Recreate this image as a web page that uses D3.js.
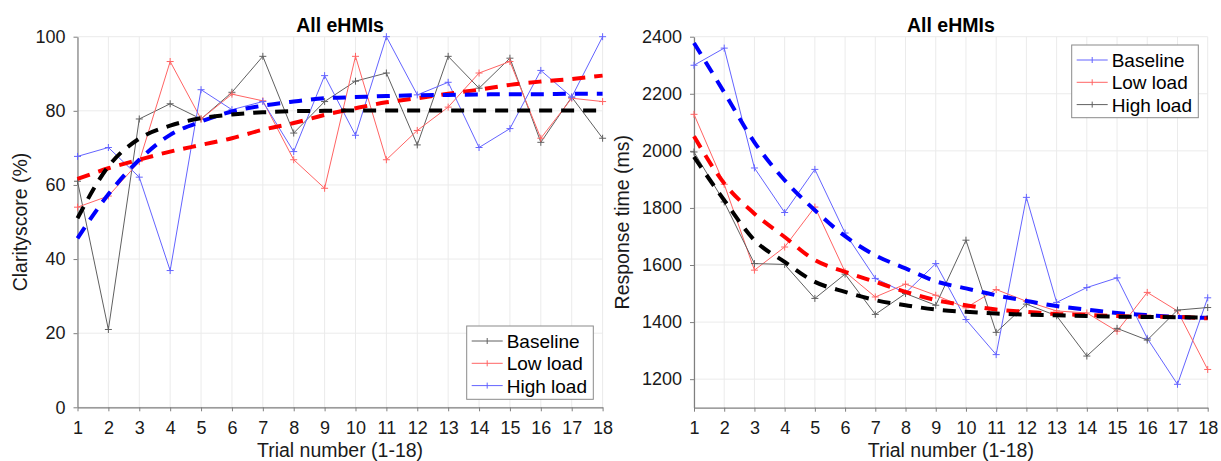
<!DOCTYPE html>
<html>
<head>
<meta charset="utf-8">
<script src="https://cdn.jsdelivr.net/npm/d3@7"></script>
<style>
  html, body { margin: 0; padding: 0; background: #fff; }
  svg { display: block; font-family: "Liberation Sans", Arial, sans-serif; }
</style>
</head>
<body>
<svg id="chart" width="1221" height="461"></svg>
<script>
// ---------- DATA ----------
const trials = d3.range(1, 19);
const seriesNames = ["Baseline", "Low load", "High load"];

// Left panel: Clarity score (%)
const clarityTicks = [0, 20, 40, 60, 80, 100];
const clarityBaseline = [61, 21, 77.8, 81.9, 77.8, 85, 94.7, 74, 82.5, 88, 90.2, 70.8, 94.7, 86.1, 94.2, 71.5, 83.7, 72.6];
const clarityLow      = [54, 57, 66.3, 93.3, 77.8, 84.5, 82.7, 66.8, 59.1, 94.7, 66.8, 74.7, 81, 90.2, 93.3, 72.6, 83.4, 82.5];
const clarityHigh     = [67.7, 70.1, 62.1, 36.9, 85.7, 80.3, 82.5, 69, 89.5, 73.4, 100, 84.3, 87.7, 70.1, 75.2, 90.9, 83.7, 100];
const clarityFitBaseline = [51, 65, 72.5, 76, 78, 79, 79.6, 79.9, 80, 80.1, 80.1, 80.1, 80.1, 80.1, 80.1, 80.1, 80.1, 80.1];
const clarityFitLow      = [61.6, 64.5, 66.8, 69, 70.8, 72.6, 74.9, 76.7, 78.9, 80.7, 82.3, 83.4, 84.6, 85.7, 87, 87.9, 88.6, 89.5];
const clarityFitHigh     = [45.6, 57.5, 66.8, 73.5, 77.1, 79.8, 81.4, 82.5, 83.4, 83.7, 84, 84.2, 84.3, 84.4, 84.5, 84.5, 84.6, 84.6];

// Right panel: Response time (ms)
const rtTicks = [1200, 1400, 1600, 1800, 2000, 2200, 2400];
const rtBaseline = [2300, 2360, 1940, 1784, 1935, 1712, 1553, 1502, 1605, 1409, 1286, 1837, 1469, 1521, 1555, 1343, 1182, 1485];
const rtLow      = [2128, 1883, 1582, 1663, 1803, 1576, 1488, 1533, 1494, 1450, 1514, 1473, 1439, 1432, 1368, 1504, 1439, 1234];
const rtHigh     = [1996, 1821, 1605, 1602, 1483, 1568, 1427, 1500, 1459, 1687, 1364, 1463, 1422, 1281, 1378, 1337, 1442, 1451];
const rtFitBaseline = [2378, 2205, 2030, 1897, 1792, 1701, 1634, 1588, 1543, 1518, 1494, 1474, 1456, 1444, 1432, 1424, 1418, 1415];
const rtFitLow      = [2051, 1886, 1780, 1698, 1617, 1576, 1541, 1506, 1477, 1459, 1444, 1436, 1428, 1425, 1421, 1419, 1418, 1413];
const rtFitHigh     = [1979, 1827, 1687, 1611, 1541, 1506, 1477, 1459, 1444, 1436, 1430, 1426, 1424, 1421, 1419, 1418, 1417, 1416];

// ---------- DRAW ----------
const svg = d3.select("#chart");
const FONT_TICK = 18, FONT_LABEL = 19.5, FONT_LEGEND = 19;
const AXIS_COLOR = "#7f7f7f", GRID_COLOR = "#ebebeb";

function drawPanel(cfg) {
  const x = d3.scaleLinear().domain([1, 18]).range([cfg.x0, cfg.x1]);
  const y = d3.scaleLinear().domain(cfg.yDomain).range([cfg.yBot, cfg.yTop]);
  const g = svg.append("g");

  // grid
  g.append("g").selectAll("line").data(trials).join("line")
    .attr("x1", d => x(d)).attr("x2", d => x(d))
    .attr("y1", cfg.yTop).attr("y2", cfg.yBot)
    .attr("stroke", GRID_COLOR).attr("stroke-width", 1);
  g.append("g").selectAll("line").data(cfg.yTicks).join("line")
    .attr("x1", cfg.x0).attr("x2", cfg.x1)
    .attr("y1", d => y(d)).attr("y2", d => y(d))
    .attr("stroke", GRID_COLOR).attr("stroke-width", 1);

  // axes
  const xAxis = g.append("g").attr("transform", `translate(0,${cfg.yBot})`)
    .call(d3.axisBottom(x).tickValues(trials).tickFormat(d3.format("d")).tickSize(4).tickPadding(10).tickSizeOuter(0));
  const yAxis = g.append("g").attr("transform", `translate(${cfg.x0},0)`)
    .call(d3.axisLeft(y).tickValues(cfg.yTicks).tickFormat(d3.format("d")).tickSize(4).tickPadding(8).tickSizeOuter(0));
  [xAxis, yAxis].forEach(a => {
    a.select(".domain").attr("stroke", AXIS_COLOR).attr("stroke-width", 1.2);
    a.selectAll(".tick line").attr("stroke", AXIS_COLOR);
    a.selectAll(".tick text").attr("fill", "#1a1a1a")
      .style("font-size", FONT_TICK + "px").style("font-family", '"Liberation Sans", Arial, sans-serif');
  });

  const line = d3.line().x((d, i) => x(trials[i])).y(d => y(d));

  // data lines
  cfg.series.forEach(s => {
    g.append("path").datum(s.values)
      .attr("d", line).attr("fill", "none")
      .attr("stroke", s.color).attr("stroke-width", 1);
    const m = g.append("g");
    s.values.forEach((v, i) => {
      const cx = x(trials[i]), cy = y(v), r = 3.5;
      m.append("path").attr("d", `M${cx - r},${cy}H${cx + r}M${cx},${cy - r}V${cy + r}`)
        .attr("stroke", s.color).attr("stroke-width", 1);
    });
  });

  // fit lines
  cfg.fits.forEach(f => {
    g.append("path").datum(f.values)
      .attr("d", d3.line().x((d, i) => x(trials[i])).y(d => y(d)).curve(d3.curveMonotoneX))
      .attr("fill", "none").attr("stroke", f.color)
      .attr("stroke-width", 4).attr("stroke-dasharray", "13,9");
  });

  // title
  g.append("text").attr("x", (cfg.x0 + cfg.x1) / 2).attr("y", 31.5)
    .attr("text-anchor", "middle").attr("font-weight", "bold")
    .style("font-size", FONT_LABEL + "px").attr("fill", "#000").text(cfg.title);

  // x label
  g.append("text").attr("x", (cfg.x0 + cfg.x1) / 2).attr("y", 457)
    .attr("text-anchor", "middle").style("font-size", FONT_LABEL + "px")
    .attr("fill", "#1a1a1a").text("Trial number (1-18)");

  // y label
  g.append("text").attr("transform", `translate(${cfg.yLabelX},${(cfg.yTop + cfg.yBot) / 2}) rotate(-90)`)
    .attr("text-anchor", "middle").style("font-size", FONT_LABEL + "px")
    .attr("fill", "#1a1a1a").text(cfg.yLabel);

  // legend
  const L = cfg.legend;
  const lg = g.append("g").attr("transform", `translate(${L.x},${L.y})`);
  lg.append("rect").attr("x", 0).attr("y", 0).attr("width", L.w).attr("height", L.h)
    .attr("fill", "#fff").attr("stroke", "#8a8a8a").attr("stroke-width", 1);
  L.items.forEach((it, i) => {
    const cy = 15 + i * 22.3;
    lg.append("line").attr("x1", 5).attr("x2", 36).attr("y1", cy).attr("y2", cy)
      .attr("stroke", it.color).attr("stroke-width", 1);
    lg.append("path").attr("d", `M20.5,${cy - 3}V${cy + 3}`).attr("stroke", it.color).attr("stroke-width", 1);
    lg.append("text").attr("x", 40).attr("y", cy + 7).style("font-size", FONT_LEGEND + "px")
      .attr("fill", "#000").text(it.name);
  });
}

const C_BLACK = "#606060", C_RED = "#ff6464", C_BLUE = "#6464ff";

drawPanel({
  x0: 77.5, x1: 602.6, yTop: 36.7, yBot: 407.3,
  yDomain: [0, 100], yTicks: clarityTicks,
  title: "All eHMIs", yLabel: "Clarityscore (%)", yLabelX: 27,
  series: [
    { values: clarityBaseline, color: C_BLACK },
    { values: clarityLow, color: C_RED },
    { values: clarityHigh, color: C_BLUE }
  ],
  fits: [
    { values: clarityFitLow, color: "#ff0000" },
    { values: clarityFitHigh, color: "#0000ff" },
    { values: clarityFitBaseline, color: "#000000" }
  ],
  legend: { x: 466.7, y: 326, w: 126.6, h: 73.3, items: [
    { name: seriesNames[0], color: C_BLACK },
    { name: seriesNames[1], color: C_RED },
    { name: seriesNames[2], color: C_BLUE }
  ] }
});

drawPanel({
  x0: 694, x1: 1207.7, yTop: 36.7, yBot: 407.7,
  yDomain: [1100, 2400], yTicks: rtTicks,
  title: "All eHMIs", yLabel: "Response time (ms)", yLabelX: 629,
  series: [
    { values: rtBaseline, color: C_BLUE },
    { values: rtLow, color: C_RED },
    { values: rtHigh, color: C_BLACK }
  ],
  fits: [
    { values: rtFitBaseline, color: "#0000ff" },
    { values: rtFitLow, color: "#ff0000" },
    { values: rtFitHigh, color: "#000000" }
  ],
  legend: { x: 1071.7, y: 45, w: 126.6, h: 72.7, items: [
    { name: seriesNames[0], color: C_BLUE },
    { name: seriesNames[1], color: C_RED },
    { name: seriesNames[2], color: C_BLACK }
  ] }
});
</script>
</body>
</html>
